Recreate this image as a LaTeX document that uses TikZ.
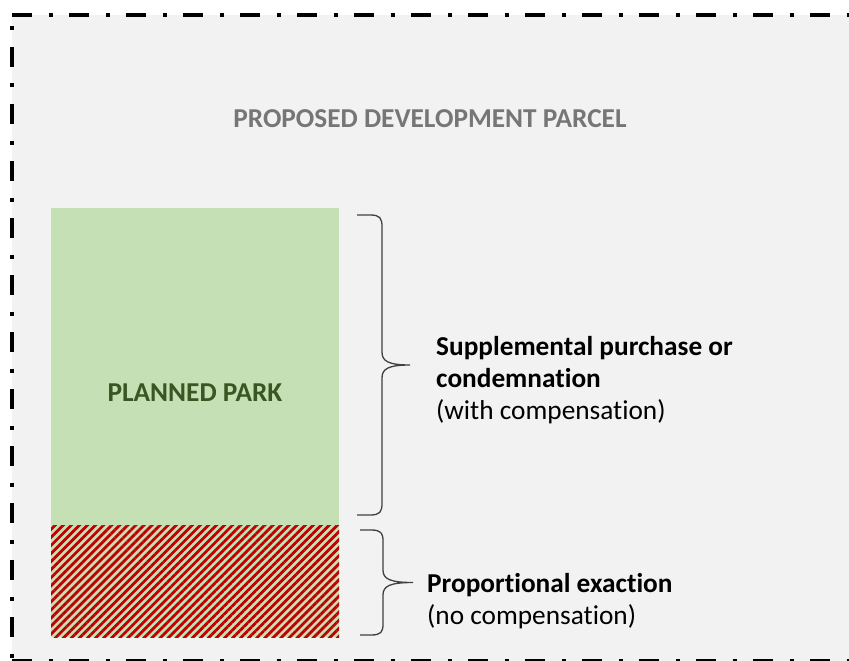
\documentclass[tikz,border=0pt]{standalone}
\usepackage{fontspec}
\setmainfont{Carlito}[Ligatures=NoCommon]
\usetikzlibrary{patterns.meta}
\definecolor{parcelgrey}{HTML}{F2F2F2}
\definecolor{parkgreen}{HTML}{C5E0B4}
\definecolor{parkdark}{HTML}{385723}
\definecolor{hatchred}{HTML}{C00000}
\definecolor{titlegrey}{HTML}{767676}
\definecolor{bracegrey}{HTML}{404040}

\begin{document}
\begin{tikzpicture}[x=1pt,y=-1pt,
  border/.style={line width=4.5pt,dash pattern=on 20pt off 16.5pt on 4pt off 16.5pt},
  bigtext/.style={font=\fontsize{27.3}{32}\selectfont,inner sep=0pt},
  curly/.style={draw=bracegrey,line width=1.3pt}]
\useasboundingbox (0,0) rectangle (849,661);
%\draw (0,0) rectangle (849,661);

% parcel
\fill[parcelgrey] (12,15) rectangle (880,661);
\draw[border] (12,15) -- (880,15);
\draw[border,dash phase=25pt] (12,15) -- (12,680);
\draw[border] (12,661) -- (880,661);
\node[bigtext,text=titlegrey,anchor=base] (title) at (430,127) {\bfseries PROPOSED DEVELOPMENT PARCEL};

% park
\fill[parkgreen] (51,208) rectangle (339,637);
\fill[pattern={Lines[angle=45,distance=5.7pt,line width=2.8pt]},pattern color=hatchred] (51,525) rectangle (339,637);
\node[bigtext,text=parkdark,anchor=base] (park) at (195,401) {\bfseries PLANNED PARK};

% braces
\coordinate (buytop) at (357,215);
\coordinate (buybot) at (357,515);
\coordinate (exacttop) at (360,530);
\coordinate (exactbot) at (360,635);
\draw[curly] (buytop) -- (370,215) .. controls (380,215) and (382,218) .. (382,227) -- (382,352)
  .. controls (382,361) and (388,365) .. (410,365) .. controls (388,365) and (382,369) .. (382,378)
  -- (382,503) .. controls (382,512) and (380,515) .. (370,515) -- (buybot);
\draw[curly] (exacttop) -- (371,530) .. controls (381,530) and (383,533) .. (383,541) -- (383,570)
  .. controls (383,579) and (390,582.5) .. (413,582.5) .. controls (390,582.5) and (383,586) .. (383,595)
  -- (383,624) .. controls (383,632) and (381,635) .. (371,635) -- (exactbot);

\node[bigtext,align=left,anchor=base west] (buy) at (436,419) {\textbf{Supplemental purchase or}\\\textbf{condemnation}\\(with compensation)};
\node[bigtext,align=left,anchor=base west] (exact) at (427,624) {\textbf{Proportional exaction}\\(no compensation)};
\end{tikzpicture}
\end{document}
